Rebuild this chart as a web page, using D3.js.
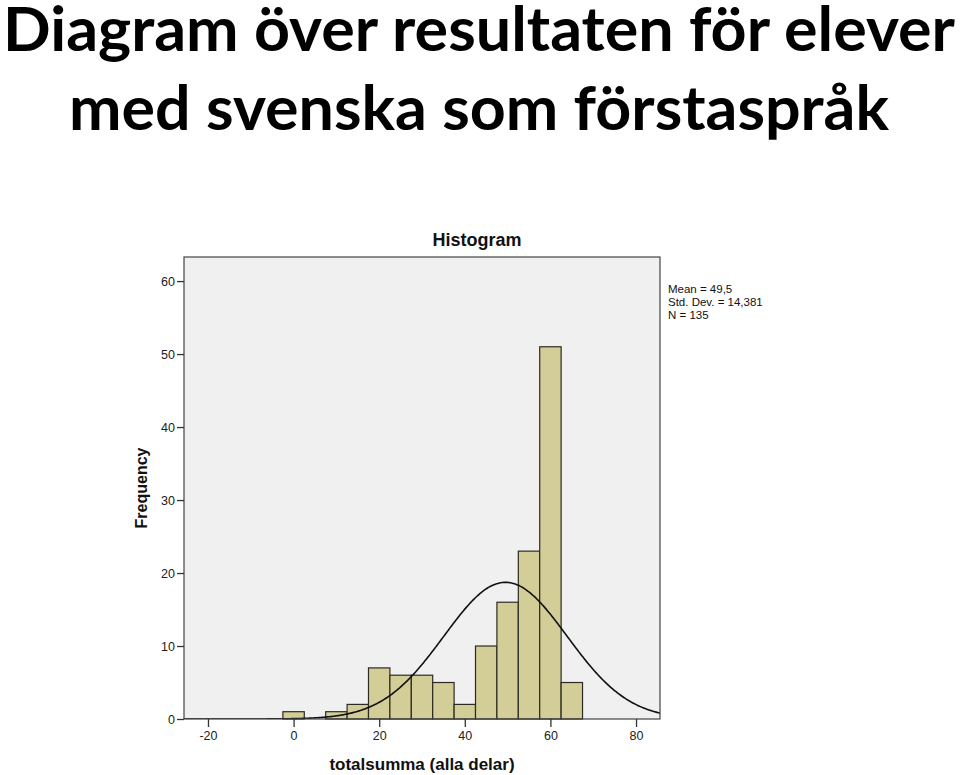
<!DOCTYPE html>
<html>
<head>
<meta charset="utf-8">
<script src="https://cdn.jsdelivr.net/npm/d3@7"></script>
<style>
  body { margin: 0; background: #fff; }
  svg { display: block; }
</style>
</head>
<body>
<svg></svg>
<script>
const width = 960;
const height = 775;

// histogram bins (lower edge of each 5-point bin) and counts
const binStarts = [-2.5, 2.5, 7.5, 12.5, 17.5, 22.5, 27.5, 32.5, 37.5, 42.5, 47.5, 52.5, 57.5, 62.5];
const counts    = [1, 0, 1, 2, 7, 6, 6, 5, 2, 10, 16, 23, 51, 5];
const binWidth = 5;

// summary stats shown in the legend
const mean = 49.5;
const stdDev = 14.381;
const n = 135;
const statLines = ["Mean = 49,5", "Std. Dev. = 14,381", "N = 135"];

const xTicks = [-20, 0, 20, 40, 60, 80];
const yTicks = [0, 10, 20, 30, 40, 50, 60];

const titleLines = ["Diagram över resultaten för elever", "med svenska som förstaspråk"];

var svg = d3.select("svg")
  .attr("width", width)
  .attr("height", height);

// big slide title
svg.selectAll("text.title")
  .data(titleLines)
  .enter().append("text")
  .attr("class", "title")
  .attr("x", 479)
  .attr("y", (d, i) => 51 + i * 79)
  .attr("text-anchor", "middle")
  .attr("font-family", "Lato, 'Open Sans', sans-serif")
  .attr("font-weight", "bold")
  .attr("font-size", 62)
  .attr("textLength", (d, i) => i === 0 ? 952 : 820)
  .attr("lengthAdjust", "spacingAndGlyphs")
  .attr("fill", "#000")
  .text(d => d);

// plot frame
const plotL = 184, plotR = 660, plotT = 257, plotB = 719;

const x = d3.scaleLinear()
  .domain([-25.6, 85.6])
  .range([plotL, plotR]);
const y = d3.scaleLinear()
  .domain([0, 63.3])
  .range([plotB, plotT]);

svg.append("rect")
  .attr("x", plotL)
  .attr("y", plotT)
  .attr("width", plotR - plotL)
  .attr("height", plotB - plotT)
  .attr("fill", "#f0f0f0");

svg.append("clipPath")
  .attr("id", "clip")
  .append("rect")
  .attr("x", plotL)
  .attr("y", plotT)
  .attr("width", plotR - plotL)
  .attr("height", plotB - plotT);

// bars
svg.append("g")
  .selectAll("rect")
  .data(binStarts.map((b, i) => ({ x0: b, x1: b + binWidth, count: counts[i] })).filter(d => d.count > 0))
  .enter().append("rect")
  .attr("x", d => x(d.x0))
  .attr("y", d => y(d.count))
  .attr("width", d => x(d.x1) - x(d.x0))
  .attr("height", d => y(0) - y(d.count))
  .attr("fill", "#d3ce97")
  .attr("stroke", "#2b2b22")
  .attr("stroke-width", 1.2);

// normal curve from the stats above
const pdf = v => n * binWidth / (stdDev * Math.sqrt(2 * Math.PI)) * Math.exp(-0.5 * Math.pow((v - mean) / stdDev, 2));
const curvePts = d3.range(x.domain()[0], x.domain()[1] + 0.25, 0.25);

svg.append("path")
  .datum(curvePts)
  .attr("clip-path", "url(#clip)")
  .attr("fill", "none")
  .attr("stroke", "#111")
  .attr("stroke-width", 1.6)
  .attr("d", d3.line().x(d => x(d)).y(d => y(pdf(d))).curve(d3.curveBasis));

// frame border
svg.append("rect")
  .attr("x", plotL)
  .attr("y", plotT)
  .attr("width", plotR - plotL)
  .attr("height", plotB - plotT)
  .attr("fill", "none")
  .attr("stroke", "#444")
  .attr("stroke-width", 1.2);

// axes
const xAxis = svg.append("g")
  .attr("transform", "translate(0," + plotB + ")")
  .call(d3.axisBottom(x).tickValues(xTicks).tickSize(8).tickPadding(4).tickFormat(d => String(d)));
const yAxis = svg.append("g")
  .attr("transform", "translate(" + plotL + ",0)")
  .call(d3.axisLeft(y).tickValues(yTicks).tickSize(7).tickPadding(2));

[xAxis, yAxis].forEach(function (a) {
  a.select(".domain").remove();
  a.selectAll("line").attr("stroke", "#333").attr("stroke-width", 1.3);
  a.selectAll("text")
    .attr("fill", "#222")
    .attr("font-family", "'Liberation Sans', Arial, sans-serif")
    .attr("font-size", 12.5);
});

// chart title and axis labels
svg.append("text")
  .attr("x", 477)
  .attr("y", 246)
  .attr("text-anchor", "middle")
  .attr("font-family", "'Liberation Sans', Arial, sans-serif")
  .attr("font-weight", "bold")
  .attr("font-size", 18)
  .attr("fill", "#111")
  .text("Histogram");

svg.append("text")
  .attr("transform", "translate(147,488) rotate(-90)")
  .attr("text-anchor", "middle")
  .attr("font-family", "'Liberation Sans', Arial, sans-serif")
  .attr("font-weight", "bold")
  .attr("font-size", 16)
  .attr("fill", "#111")
  .text("Frequency");

svg.append("text")
  .attr("x", 422)
  .attr("y", 770)
  .attr("text-anchor", "middle")
  .attr("font-family", "'Liberation Sans', Arial, sans-serif")
  .attr("font-weight", "bold")
  .attr("font-size", 17)
  .attr("fill", "#111")
  .text("totalsumma (alla delar)");

// stats legend
svg.append("g")
  .selectAll("text")
  .data(statLines)
  .enter().append("text")
  .attr("x", 668)
  .attr("y", (d, i) => 293 + i * 12.9)
  .attr("font-family", "'Liberation Sans', Arial, sans-serif")
  .attr("font-size", 11.5)
  .attr("fill", "#111")
  .text(d => d);
</script>
</body>
</html>
